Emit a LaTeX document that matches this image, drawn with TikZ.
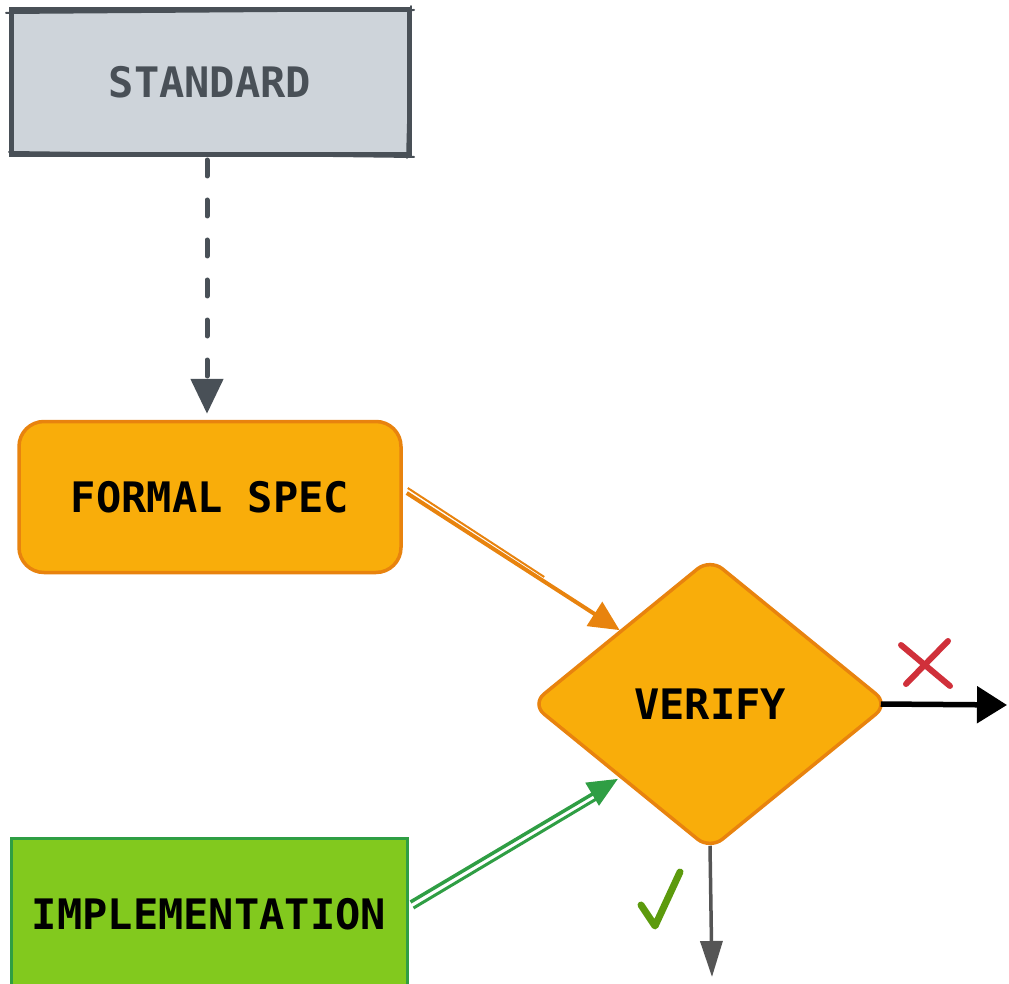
\documentclass[tikz,border=0pt]{standalone}
\usepackage{fontspec}
\setmonofont{DejaVu Sans Mono}
\usetikzlibrary{arrows.meta,shapes.geometric}
\definecolor{grayfill}{HTML}{CED4DA}
\definecolor{darkgray}{HTML}{495057}
\definecolor{orfill}{HTML}{F9AD0A}
\definecolor{orline}{HTML}{E8830E}
\definecolor{grfill}{HTML}{82C91E}
\definecolor{grline}{HTML}{2F9E44}
\definecolor{xred}{HTML}{D0303A}
\definecolor{chk}{HTML}{5C9A0D}
\definecolor{arrgray}{HTML}{555555}
\begin{document}
\begin{tikzpicture}[x=1pt,y=-1pt,
  lbl/.style={font=\ttfamily\bfseries\fontsize{42}{48}\selectfont, inner sep=0pt},
  stdbox/.style={draw=darkgray, fill=grayfill, line width=5pt, text=darkgray, lbl},
  specbox/.style={draw=orline, fill=orfill, line width=3.5pt, rounded corners=25pt, text=black, lbl},
  decide/.style={diamond, draw=orline, fill=orfill, line width=3.5pt, rounded corners=16pt, text=black, lbl},
  implbox/.style={draw=grline, fill=grfill, line width=3pt, text=black, lbl}]
\useasboundingbox (0,0) rectangle (1009,984);

% nodes
\node[stdbox, minimum width=398pt, minimum height=145pt] (standard) at (210,82) {STANDARD};
\draw[darkgray, line width=2pt, line cap=round] (6,13) -- (414,10);
\draw[darkgray, line width=2pt, line cap=round] (9,152) -- (414,157);
\draw[darkgray, line width=1.8pt, line cap=round] (411,6) -- (407,158);

\node[specbox, minimum width=382pt, minimum height=151pt] (formal) at (210,497) {FORMAL SPEC};

\node[decide, minimum width=358pt, minimum height=292pt] (verify) at (710,704) {VERIFY};

\node[implbox, minimum width=396pt, minimum height=152pt] (impl) at (209,914) {IMPLEMENTATION};

\coordinate (rexit) at (1007,705);
\coordinate (dexit) at (712,977);

% connectors
\draw[darkgray, line width=5pt, dash pattern=on 16pt off 24pt, line cap=round,
      shorten >=6pt, shorten <=3pt, -{Triangle[length=35pt,width=32pt]}]
  ([xshift=-3pt]standard.south) -- ([xshift=-3pt]formal.north);

\draw[orline, line width=4pt, -{Triangle[length=30pt,width=28pt]}]
  ([xshift=4pt,yshift=4pt]formal.east) -- (verify.north west);
\draw[orline, line width=2pt, shorten >=90pt]
  ([xshift=5pt,yshift=9pt]formal.east) -- ([yshift=4pt]verify.north west);

\draw[grline, line width=3.5pt, shorten >=2pt, -{Triangle[length=30pt,width=26pt]}]
  ([xshift=2pt,yshift=12pt]impl.east) -- (verify.south west);
\draw[grline, line width=3pt, shorten >=28pt]
  ([xshift=5pt,yshift=6pt]impl.east) -- ([xshift=2pt,yshift=-6pt]verify.south west);

\draw[black, line width=5.5pt, -{Triangle[length=30pt,width=36pt]}]
  ([xshift=-10pt]verify.east) -- (rexit);
\draw[arrgray, line width=3.5pt, -{Triangle[length=36pt,width=22pt]}]
  ([yshift=6pt]verify.south) -- (dexit);

% marks
\draw[xred, line width=6pt, line cap=round] (901,645) -- (950,686);
\draw[xred, line width=6pt, line cap=round] (948,641) -- (906,684);
\draw[chk, line width=7pt, line cap=round, line join=round] (641,905) -- (655,926) -- (680,872);
\end{tikzpicture}
\end{document}
